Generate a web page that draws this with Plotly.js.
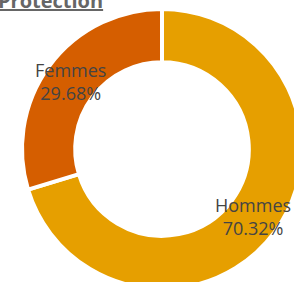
<!DOCTYPE html>
<html>
<head>
<meta charset="utf-8">
<script src="https://cdn.plot.ly/plotly-3.0.1.min.js"></script>
<style>
html,body{margin:0;padding:0;overflow:hidden;background:#fff;width:294px;height:282px;}
#chart{width:304px;height:292px;}
</style>
</head>
<body>
<div id="chart"></div>
<script>
const categories = ['Hommes', 'Femmes'];
const shares = [70.32, 29.68];
const sliceColors = ['#E69F00', '#D55E00'];
const chartTitle = 'Protection';

const hole = 0.62;
const total = shares.reduce((a, b) => a + b, 0);
const rMid = (1 + hole) / 2;
const labelAnnotations = [];
let cum = 0;
shares.forEach((v, i) => {
  const mid = (cum + v / 2) / total * 2 * Math.PI;
  cum += v;
  labelAnnotations.push({
    xref: 'x', yref: 'y',
    x: rMid * Math.sin(mid),
    y: rMid * Math.cos(mid),
    text: categories[i] + '<br>' + (v / total * 100).toFixed(2) + '%',
    showarrow: false,
    xanchor: 'center', yanchor: 'middle', align: 'center',
    font: {family: 'Open Sans', size: 18, color: '#444444'}
  });
});

Plotly.newPlot('chart', [{
  type: 'pie',
  labels: categories,
  values: shares,
  hole: hole,
  sort: false,
  direction: 'clockwise',
  rotation: 0,
  marker: {colors: sliceColors, line: {color: '#ffffff', width: 4}},
  textinfo: 'none',
  hoverinfo: 'skip'
}, {
  type: 'scatter',
  mode: 'markers',
  x: [], y: [],
  hoverinfo: 'skip'
}], {
  width: 304,
  height: 292,
  margin: {l: 22, r: 2, t: 9, b: 3},
  showlegend: false,
  paper_bgcolor: '#ffffff',
  plot_bgcolor: 'rgba(0,0,0,0)',
  xaxis: {range: [-1, 1], visible: false, fixedrange: true},
  yaxis: {range: [-1, 1], visible: false, fixedrange: true},
  annotations: labelAnnotations,
  title: {
    text: '<b><u>' + chartTitle + '</u></b>',
    font: {family: 'Open Sans', size: 20, color: '#666666'},
    xref: 'container', yref: 'container',
    x: 0, xanchor: 'left',
    y: 1 - 8 / 292, yanchor: 'bottom',
    pad: {l: -2, t: 0, r: 0, b: 0}
  }
}, {displayModeBar: false, staticPlot: true});
</script>
</body>
</html>
